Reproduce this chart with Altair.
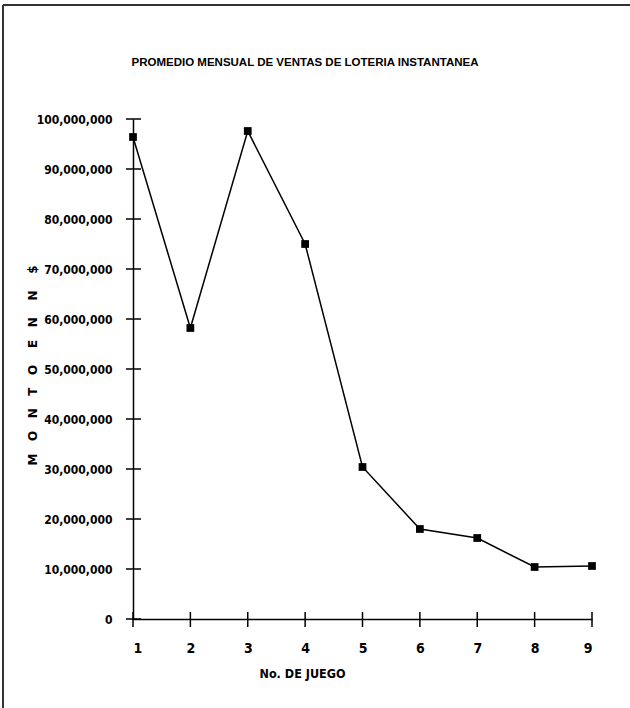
import altair as alt
import pandas as pd

# ---- data ----
juego = [1, 2, 3, 4, 5, 6, 7, 8, 9]
monto = [96.4e6, 58.2e6, 97.6e6, 75.0e6, 30.4e6, 18.0e6, 16.2e6, 10.4e6, 10.6e6]
y_ticks = [0, 10e6, 20e6, 30e6, 40e6, 50e6, 60e6, 70e6, 80e6, 90e6, 100e6]
x_ticks = [1, 2, 3, 4, 5, 6, 7, 8, 9]

title_text = "PROMEDIO MENSUAL DE VENTAS DE LOTERIA INSTANTANEA"
x_title = "No. DE JUEGO"
S3 = "\u00a0" * 3
S4 = "\u00a0" * 4
y_title = S3.join("MONTO") + S4 + S3.join("EN") + S4 + "N" + S4 + "$"

df = pd.DataFrame({"juego": juego, "monto": monto})
yt = pd.DataFrame({"juego": [1] * len(y_ticks), "monto": y_ticks})
xt = pd.DataFrame({"juego": x_ticks, "monto": [0] * len(x_ticks)})

W, H = 459, 500
LBL = "DejaVu Sans Condensed"

x_scale = alt.Scale(domain=[1, 9], nice=False, zero=False)
y_scale = alt.Scale(domain=[0, 100e6], nice=False)

x_axis = alt.Axis(
    values=x_ticks, format="d", ticks=False, grid=False,
    labelFont=LBL, labelFontSize=14, labelFontWeight="bold", labelColor="black",
    labelPadding=22, domainColor="black", domainWidth=1.5,
    title=x_title, titleFont=LBL, titleFontSize=12.5, titleFontWeight="bold",
    titleColor="black", titleX=169, titleY=54, titleBaseline="middle",
    titleAlign="center",
)
y_axis = alt.Axis(
    values=y_ticks, format=",d", ticks=False, grid=False,
    labelFont=LBL, labelFontSize=12, labelFontWeight="bold", labelColor="black",
    labelPadding=21, domainColor="black", domainWidth=1.5,
    title=y_title, titleFont="DejaVu Sans", titleFontSize=12, titleFontWeight="bold",
    titleColor="black", titleAngle=270, titleX=-101, titleY=246,
    titleBaseline="middle", titleAlign="center",
)

X = alt.X("juego:Q", scale=x_scale, axis=x_axis)
Y = alt.Y("monto:Q", scale=y_scale, axis=y_axis)

line = alt.Chart(df).mark_line(color="black", strokeWidth=1.5).encode(x=X, y=Y)
pts = alt.Chart(df).mark_point(
    shape="square", filled=True, size=60, color="black", opacity=1
).encode(x=X, y=Y)

ytick = alt.Chart(yt).mark_rule(color="black", strokeWidth=1.5).encode(
    y=Y, x=alt.value(-7), x2=alt.value(8)
)
xtick = alt.Chart(xt).mark_rule(color="black", strokeWidth=1.5).encode(
    x=X, y=alt.value(H - 7), y2=alt.value(H + 8)
)

title_mark = alt.Chart(pd.DataFrame({"t": [title_text]})).mark_text(
    font="Liberation Sans", fontSize=11.5, fontWeight="bold", color="black",
    align="center", baseline="middle",
).encode(text="t:N", x=alt.value(172), y=alt.value(-56))

frame_left = alt.Chart(df).mark_rule(color="#333333", strokeWidth=1.5).encode(
    x=alt.value(-130), y=alt.value(-114), y2=alt.value(589)
)
frame_top = alt.Chart(df).mark_rule(color="#333333", strokeWidth=1.5).encode(
    x=alt.value(-130), x2=alt.value(497), y=alt.value(-114)
)

chart = alt.layer(frame_left, frame_top, ytick, xtick, line, pts, title_mark).properties(
    width=W, height=H,
    autosize=alt.AutoSizeParams(type="none"),
    padding={"left": 133, "top": 119, "right": 38, "bottom": 89},
    background="white",
).configure_view(strokeWidth=0)

chart.save("out.html", embed_options={"renderer": "svg", "actions": False})
